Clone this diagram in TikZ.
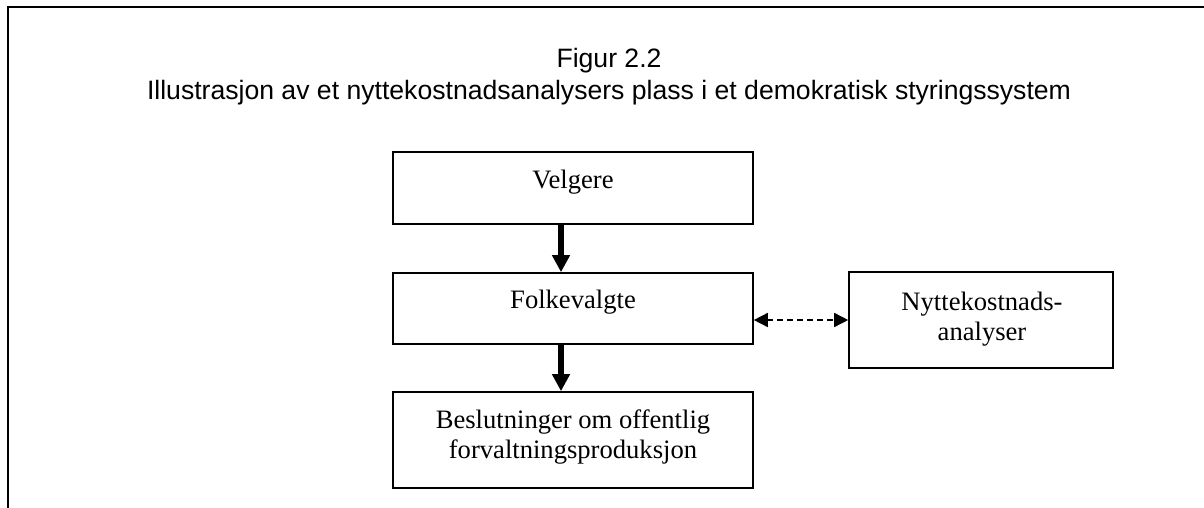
\documentclass[tikz,border=0pt]{standalone}
\usepackage{fontspec}
\setmainfont{Liberation Serif}
\newfontfamily\titlefont{Liberation Sans}
\usetikzlibrary{arrows.meta}
\begin{document}
\begin{tikzpicture}[x=0.5pt,y=-0.5pt,
  box/.style={draw, line width=0.8pt, inner sep=0pt},
  lbl/.style={font=\fontsize{13.3}{15}\selectfont, anchor=base, align=center, inner sep=0pt},
  ttl/.style={font=\titlefont\fontsize{13.3}{16}\selectfont, anchor=base, inner sep=0pt},
  flow/.style={line width=3pt, -{Triangle[length=8.5pt,width=8.5pt]}},
  link/.style={line width=0.75pt, dash pattern=on 3pt off 2pt, {Triangle[length=7pt,width=7pt]}-{Triangle[length=7pt,width=7pt]}}
]
\useasboundingbox (0,0) rectangle (1204,508);
\draw[line width=1pt] (1212,7) -- (7.5,7) -- (7.5,516);
\node[ttl] (t1) at (609,68) {Figur 2.2};
\node[ttl] (t2) at (609,100) {Illustrasjon av et nyttekostnadsanalysers plass i et demokratisk styringssystem};
\node[box, minimum width=180pt, minimum height=36pt] (velg) at (573,188) {};
\node[box, minimum width=180pt, minimum height=35.5pt] (folk) at (573,308.5) {};
\node[box, minimum width=180pt, minimum height=48pt] (besl) at (573,440) {};
\node[box, minimum width=132pt, minimum height=48pt] (nytte) at (981,320) {};
\node[lbl] (velgtxt) at (573,188) {Velgere};
\node[lbl] (folktxt) at (573,308) {Folkevalgte};
\node[lbl] (besltxt) at (573,458) {Beslutninger om offentlig\\forvaltningsproduksjon};
\node[lbl] (nyttetxt) at (982,340) {Nyttekostnads-\\analyser};
\draw[flow] ([xshift=-6pt]velg.south) -- ([xshift=-6pt]folk.north);
\draw[flow] ([xshift=-6pt]folk.south) -- ([xshift=-6pt]besl.north);
\draw[link] (folk.east |- nytte.west) -- (nytte.west);
\end{tikzpicture}
\end{document}
